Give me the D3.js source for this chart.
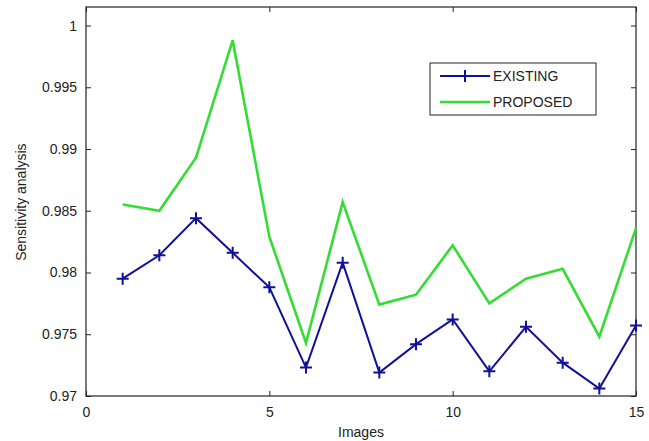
<!DOCTYPE html>
<head>
  <meta charset="utf-8">
  <script src="https://d3js.org/d3.v7.min.js"></script>
  <style>
    body { margin: 0; background: #fff; }
    text { font-family: "Liberation Sans", Arial, sans-serif; fill: #222; }
  </style>
</head>
<body>
  <div id="chart"></div>
  <script>
    // values
    var images = [1, 2, 3, 4, 5, 6, 7, 8, 9, 10, 11, 12, 13, 14, 15];
    var existing = [0.9795, 0.9814, 0.9844, 0.9816, 0.9788, 0.9723, 0.9808, 0.9719, 0.9742, 0.9762, 0.9720, 0.9756, 0.9727, 0.9706, 0.9757];
    var proposed = [0.9855, 0.9850, 0.9893, 0.9988, 0.9829, 0.9743, 0.9857, 0.9774, 0.9782, 0.9822, 0.9775, 0.9795, 0.9803, 0.9748, 0.9836];
    var xTicks = [0, 5, 10, 15];
    var yTicks = [0.97, 0.975, 0.98, 0.985, 0.99, 0.995, 1];
    var yTickLabels = ["0.97", "0.975", "0.98", "0.985", "0.99", "0.995", "1"];
    var seriesNames = ["EXISTING", "PROPOSED"];

    var width = 649, height = 441;
    var margin = {left: 86, right: 13, top: 7, bottom: 45};
    var svg = d3.select("#chart").append("svg")
      .attr("width", width)
      .attr("height", height);

    var x = d3.scaleLinear().domain([0, 15]).range([margin.left, width - margin.right]);
    var y = d3.scaleLinear().domain([0.97, 1.0015]).range([height - margin.bottom, margin.top]);

    var tick = 5;
    // bottom axis
    svg.append("g")
      .attr("transform", "translate(0," + y(0.97) + ")")
      .call(d3.axisBottom(x).tickValues(xTicks).tickSizeInner(-tick).tickSizeOuter(0).tickPadding(11))
      .call(g => g.select(".domain").remove());
    // top mirror ticks
    svg.append("g")
      .attr("transform", "translate(0," + y.range()[1] + ")")
      .call(d3.axisTop(x).tickValues(xTicks).tickSizeInner(-tick).tickSizeOuter(0).tickFormat(""))
      .call(g => g.select(".domain").remove());
    // left axis
    svg.append("g")
      .attr("transform", "translate(" + x(0) + ",0)")
      .call(d3.axisLeft(y).tickValues(yTicks).tickSizeInner(-tick).tickSizeOuter(0).tickPadding(9)
        .tickFormat((d, i) => yTickLabels[i]))
      .call(g => g.select(".domain").remove());
    // right mirror ticks
    svg.append("g")
      .attr("transform", "translate(" + x(15) + ",0)")
      .call(d3.axisRight(y).tickValues(yTicks).tickSizeInner(-tick).tickSizeOuter(0).tickFormat(""))
      .call(g => g.select(".domain").remove());

    svg.selectAll(".tick line").attr("stroke", "#222");
    svg.selectAll(".tick text").style("font-size", "14px").attr("fill", "#222");

    // box
    svg.append("rect")
      .attr("x", x(0)).attr("y", y.range()[1])
      .attr("width", x(15) - x(0)).attr("height", y(0.97) - y.range()[1])
      .attr("fill", "none").attr("stroke", "#222").attr("stroke-width", 1.2);

    var line = d3.line()
      .x((d, i) => x(images[i]))
      .y(d => y(d));

    svg.append("path").datum(proposed)
      .attr("d", line)
      .attr("fill", "none").attr("stroke", "#33dd33").attr("stroke-width", 2.6);

    svg.append("path").datum(existing)
      .attr("d", line)
      .attr("fill", "none").attr("stroke", "#10109a").attr("stroke-width", 2);

    var plus = d3.symbol().type(d3.symbolCross).size(0);
    svg.selectAll(".mark").data(existing).enter().append("path")
      .attr("class", "mark")
      .attr("d", "M-6,0H6M0,-6V6")
      .attr("transform", (d, i) => "translate(" + x(images[i]) + "," + y(d) + ")")
      .attr("stroke", "#10109a").attr("stroke-width", 2).attr("fill", "none");

    // legend
    var lg = svg.append("g").attr("transform", "translate(430,63)");
    lg.append("rect").attr("width", 166).attr("height", 52)
      .attr("fill", "#fff").attr("stroke", "#222").attr("stroke-width", 1);
    var colors = ["#10109a", "#33dd33"];
    var widths = [2, 2.6];
    seriesNames.forEach(function(name, i) {
      var yy = 13 + i * 26;
      lg.append("line").attr("x1", 10).attr("x2", 60).attr("y1", yy).attr("y2", yy)
        .attr("stroke", colors[i]).attr("stroke-width", widths[i]);
      if (i == 0) {
        lg.append("path").attr("d", "M35,7V19").attr("stroke", colors[i]).attr("stroke-width", 2);
      }
      lg.append("text").attr("x", 63).attr("y", yy + 5).style("font-size", "14px").text(name);
    });

    // axis labels
    svg.append("text")
      .attr("x", x(7.5)).attr("y", 437)
      .attr("text-anchor", "middle").style("font-size", "14px")
      .text("Images");
    svg.append("text")
      .attr("transform", "translate(26," + y(0.9857) + ") rotate(-90)")
      .attr("text-anchor", "middle").style("font-size", "14px")
      .text("Sensitivity analysis");
  </script>
</body>
